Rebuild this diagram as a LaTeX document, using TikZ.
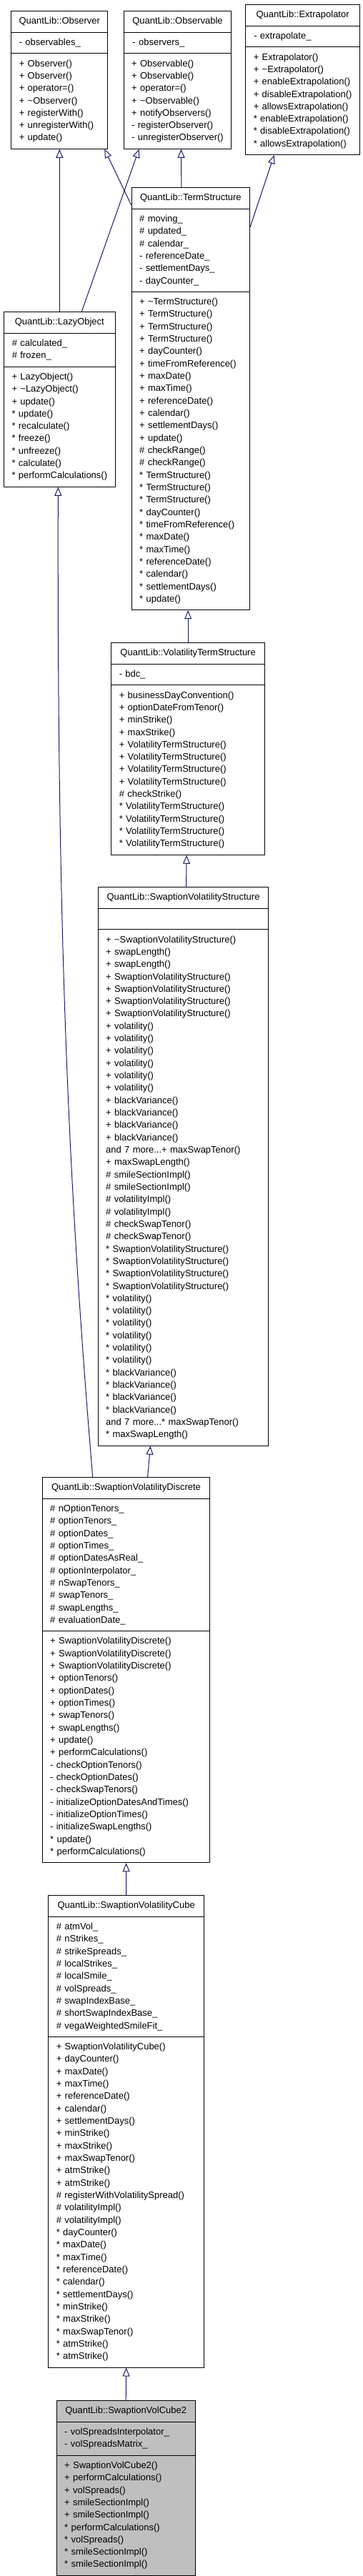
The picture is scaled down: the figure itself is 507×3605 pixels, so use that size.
\documentclass[tikz,border=0pt]{standalone}
\usepackage{fontspec}
\setmainfont{Liberation Sans}
\usetikzlibrary{shapes.multipart,arrows.meta}
\definecolor{edgeblue}{RGB}{25,25,112}
\definecolor{focusgray}{RGB}{191,191,191}
\newcommand{\umlrow}[1]{\par\offinterlineskip\hbox{\vrule height12.12pt depth5.2pt width0pt\relax#1}}
\newcommand{\umltitle}[1]{\par\offinterlineskip\hbox to\hsize{\hss\vrule height12.12pt depth5.2pt width0pt\relax#1\hss}}
\begin{document}
\begin{tikzpicture}[x=1pt,y=-1pt,
    classbox/.style={draw=black,line width=1pt,rectangle split,rectangle split parts=3,
      anchor=north west,align=left,inner xsep=11pt,inner ysep=5.66pt,
      font=\fontsize{13}{17.32}\selectfont},
    inheritline/.style={draw=edgeblue,line width=1pt,-{Triangle[fill=white,length=12pt,width=10pt]}}]
    \useasboundingbox (0,0) rectangle (507,3605);
    \node[classbox,text width=113pt] (obs) at (15.3,15) {\umltitle{QuantLib::Observer}
        \nodepart{two}\umlrow{- observables\_}
        \nodepart{three}\umlrow{+ Observer()}\umlrow{+ Observer()}\umlrow{+ operator=()}
        \umlrow{+ \textasciitilde Observer()}\umlrow{+ registerWith()}\umlrow{+ unregisterWith()}
        \umlrow{+ update()}};
    \node[classbox,text width=126pt] (obsable) at (172.7,15) {\umltitle{QuantLib::Observable}
        \nodepart{two}\umlrow{- observers\_}
        \nodepart{three}\umlrow{+ Observable()}\umlrow{+ Observable()}\umlrow{+ operator=()}
        \umlrow{+ \textasciitilde Observable()}\umlrow{+ notifyObservers()}\umlrow{- registerObserver()}
        \umlrow{- unregisterObserver()}};
    \node[classbox,text width=136.7pt] (extrap) at (343.3,6) {\umltitle{QuantLib::Extrapolator}
        \nodepart{two}\umlrow{- extrapolate\_}
        \nodepart{three}\umlrow{+ Extrapolator()}\umlrow{+ \textasciitilde Extrapolator()}
        \umlrow{+ enableExtrapolation()}\umlrow{+ disableExtrapolation()}\umlrow{+ allowsExtrapolation()}
        \umlrow{* enableExtrapolation()}\umlrow{* disableExtrapolation()}\umlrow{* allowsExtrapolation()}};
    \node[classbox,text width=143.3pt] (ts) at (183.7,262) {\umltitle{QuantLib::TermStructure}
        \nodepart{two}\umlrow{\# moving\_}\umlrow{\# updated\_}\umlrow{\# calendar\_}
        \umlrow{- referenceDate\_}\umlrow{- settlementDays\_}\umlrow{- dayCounter\_}
        \nodepart{three}\umlrow{+ \textasciitilde TermStructure()}\umlrow{+ TermStructure()}
        \umlrow{+ TermStructure()}\umlrow{+ TermStructure()}\umlrow{+ dayCounter()}
        \umlrow{+ timeFromReference()}\umlrow{+ maxDate()}\umlrow{+ maxTime()}
        \umlrow{+ referenceDate()}\umlrow{+ calendar()}\umlrow{+ settlementDays()}
        \umlrow{+ update()}\umlrow{\# checkRange()}\umlrow{\# checkRange()}
        \umlrow{* TermStructure()}\umlrow{* TermStructure()}\umlrow{* TermStructure()}
        \umlrow{* dayCounter()}\umlrow{* timeFromReference()}\umlrow{* maxDate()}
        \umlrow{* maxTime()}\umlrow{* referenceDate()}\umlrow{* calendar()}
        \umlrow{* settlementDays()}\umlrow{* update()}};
    \node[classbox,text width=133pt] (lazy) at (5,436) {\umltitle{QuantLib::LazyObject}
        \nodepart{two}\umlrow{\# calculated\_}\umlrow{\# frozen\_}
        \nodepart{three}\umlrow{+ LazyObject()}\umlrow{+ \textasciitilde LazyObject()}
        \umlrow{+ update()}\umlrow{* update()}\umlrow{* recalculate()}\umlrow{* freeze()}
        \umlrow{* unfreeze()}\umlrow{* calculate()}\umlrow{* performCalculations()}};
    \node[classbox,text width=192.7pt] (vts) at (155.3,899) {\umltitle{QuantLib::VolatilityTermStructure}
        \nodepart{two}\umlrow{- bdc\_}
        \nodepart{three}\umlrow{+ businessDayConvention()}\umlrow{+ optionDateFromTenor()}
        \umlrow{+ minStrike()}\umlrow{+ maxStrike()}
        \umlrow{+ VolatilityTermStructure()}\umlrow{+ VolatilityTermStructure()}
        \umlrow{+ VolatilityTermStructure()}\umlrow{+ VolatilityTermStructure()}
        \umlrow{\# checkStrike()}
        \umlrow{* VolatilityTermStructure()}\umlrow{* VolatilityTermStructure()}
        \umlrow{* VolatilityTermStructure()}\umlrow{* VolatilityTermStructure()}};
    \node[classbox,text width=216.7pt] (svs) at (136.7,1241) {\umltitle{QuantLib::SwaptionVolatilityStructure}
        \nodepart{two}\umlrow{}
        \nodepart{three}\umlrow{+ \textasciitilde SwaptionVolatilityStructure()}
        \umlrow{+ swapLength()}\umlrow{+ swapLength()}
        \umlrow{+ SwaptionVolatilityStructure()}\umlrow{+ SwaptionVolatilityStructure()}
        \umlrow{+ SwaptionVolatilityStructure()}\umlrow{+ SwaptionVolatilityStructure()}
        \umlrow{+ volatility()}\umlrow{+ volatility()}\umlrow{+ volatility()}
        \umlrow{+ volatility()}\umlrow{+ volatility()}\umlrow{+ volatility()}
        \umlrow{+ blackVariance()}\umlrow{+ blackVariance()}\umlrow{+ blackVariance()}
        \umlrow{+ blackVariance()}\umlrow{and 7 more...+ maxSwapTenor()}
        \umlrow{+ maxSwapLength()}\umlrow{\# smileSectionImpl()}\umlrow{\# smileSectionImpl()}
        \umlrow{\# volatilityImpl()}\umlrow{\# volatilityImpl()}
        \umlrow{\# checkSwapTenor()}\umlrow{\# checkSwapTenor()}
        \umlrow{* SwaptionVolatilityStructure()}\umlrow{* SwaptionVolatilityStructure()}
        \umlrow{* SwaptionVolatilityStructure()}\umlrow{* SwaptionVolatilityStructure()}
        \umlrow{* volatility()}\umlrow{* volatility()}\umlrow{* volatility()}
        \umlrow{* volatility()}\umlrow{* volatility()}\umlrow{* volatility()}
        \umlrow{* blackVariance()}\umlrow{* blackVariance()}\umlrow{* blackVariance()}
        \umlrow{* blackVariance()}\umlrow{and 7 more...* maxSwapTenor()}
        \umlrow{* maxSwapLength()}};
    \node[classbox,text width=212.7pt] (svd) at (58.7,2067) {\umltitle{QuantLib::SwaptionVolatilityDiscrete}
        \nodepart{two}\umlrow{\# nOptionTenors\_}\umlrow{\# optionTenors\_}\umlrow{\# optionDates\_}
        \umlrow{\# optionTimes\_}\umlrow{\# optionDatesAsReal\_}\umlrow{\# optionInterpolator\_}
        \umlrow{\# nSwapTenors\_}\umlrow{\# swapTenors\_}\umlrow{\# swapLengths\_}
        \umlrow{\# evaluationDate\_}
        \nodepart{three}\umlrow{+ SwaptionVolatilityDiscrete()}\umlrow{+ SwaptionVolatilityDiscrete()}
        \umlrow{+ SwaptionVolatilityDiscrete()}\umlrow{+ optionTenors()}\umlrow{+ optionDates()}
        \umlrow{+ optionTimes()}\umlrow{+ swapTenors()}\umlrow{+ swapLengths()}
        \umlrow{+ update()}\umlrow{+ performCalculations()}\umlrow{- checkOptionTenors()}
        \umlrow{- checkOptionDates()}\umlrow{- checkSwapTenors()}
        \umlrow{- initializeOptionDatesAndTimes()}\umlrow{- initializeOptionTimes()}
        \umlrow{- initializeSwapLengths()}\umlrow{* update()}\umlrow{* performCalculations()}};
    \node[classbox,text width=195.7pt] (svc) at (67.3,2652) {\umltitle{QuantLib::SwaptionVolatilityCube}
        \nodepart{two}\umlrow{\# atmVol\_}\umlrow{\# nStrikes\_}\umlrow{\# strikeSpreads\_}
        \umlrow{\# localStrikes\_}\umlrow{\# localSmile\_}\umlrow{\# volSpreads\_}
        \umlrow{\# swapIndexBase\_}\umlrow{\# shortSwapIndexBase\_}\umlrow{\# vegaWeightedSmileFit\_}
        \nodepart{three}\umlrow{+ SwaptionVolatilityCube()}\umlrow{+ dayCounter()}
        \umlrow{+ maxDate()}\umlrow{+ maxTime()}\umlrow{+ referenceDate()}\umlrow{+ calendar()}
        \umlrow{+ settlementDays()}\umlrow{+ minStrike()}\umlrow{+ maxStrike()}
        \umlrow{+ maxSwapTenor()}\umlrow{+ atmStrike()}\umlrow{+ atmStrike()}
        \umlrow{\# registerWithVolatilitySpread()}\umlrow{\# volatilityImpl()}\umlrow{\# volatilityImpl()}
        \umlrow{* dayCounter()}\umlrow{* maxDate()}\umlrow{* maxTime()}\umlrow{* referenceDate()}
        \umlrow{* calendar()}\umlrow{* settlementDays()}\umlrow{* minStrike()}
        \umlrow{* maxStrike()}\umlrow{* maxSwapTenor()}\umlrow{* atmStrike()}\umlrow{* atmStrike()}};
    \node[classbox,fill=focusgray,text width=172pt] (svc2) at (78.7,3359) {\umltitle{QuantLib::SwaptionVolCube2}
        \nodepart{two}\umlrow{- volSpreadsInterpolator\_}\umlrow{- volSpreadsMatrix\_}
        \nodepart{three}\umlrow{+ SwaptionVolCube2()}\umlrow{+ performCalculations()}
        \umlrow{+ volSpreads()}\umlrow{+ smileSectionImpl()}\umlrow{+ smileSectionImpl()}
        \umlrow{* performCalculations()}\umlrow{* volSpreads()}\umlrow{* smileSectionImpl()}
        \umlrow{* smileSectionImpl()}};
    \draw[inheritline] (lazy.north) -- (obs.south);
    \draw[inheritline] ([xshift=31pt]lazy.north) -- ([xshift=-54pt]obsable.south);
    \draw[inheritline] ([yshift=-25pt]ts.north west) -- ([xshift=-5pt]obs.south east);
    \draw[inheritline] ([xshift=-13pt]ts.north) -- ([xshift=5pt]obsable.south);
    \draw[inheritline] ([yshift=-56pt]ts.north east) -- ([xshift=-40pt]extrap.south);
    \draw[inheritline] (vts.north) -- (vts.north |- ts.south);
    \draw[inheritline] ([xshift=4pt]svs.north) -- ([xshift=-2pt]vts.south);
    \draw[inheritline] ([xshift=71pt]svd.north west) .. controls (95,1650) and (80,1300) .. ([xshift=-2pt]lazy.south);
    \draw[inheritline] ([xshift=30pt]svd.north) -- ([xshift=-46pt]svs.south);
    \draw[inheritline] (svc.north) -- (svd.south);
    \draw[inheritline] (svc2.north) -- (svc.south);
\end{tikzpicture}
\end{document}
